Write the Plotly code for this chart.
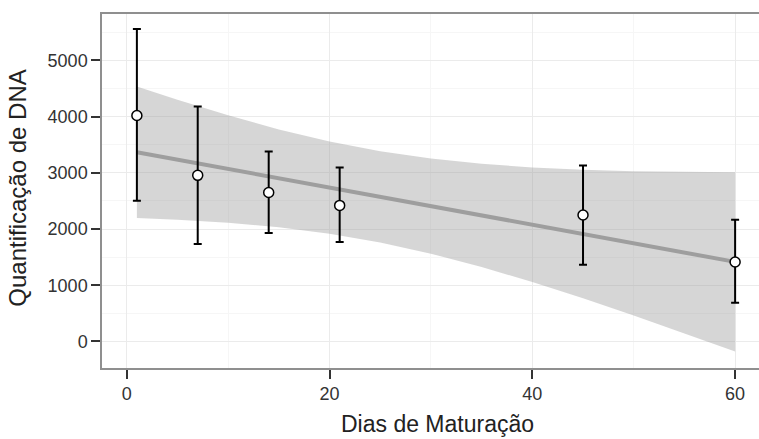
import plotly.graph_objects as go

# Data
dias = [1, 7, 14, 21, 45, 60]
media = [4020, 2955, 2650, 2420, 2250, 1413]
limite_sup = [5560, 4180, 3380, 3096, 3132, 2165]
limite_inf = [2503, 1733, 1929, 1769, 1365, 689]

# Regression line and its confidence band
ajuste_x = [1, 5, 10, 15, 20, 25, 30, 35, 40, 45, 50, 55, 60]
ajuste_y = [3366, 3234, 3068, 2903, 2738, 2573, 2407, 2242, 2076, 1911, 1746, 1580, 1415]
banda_sup = [4536, 4301, 4023, 3773, 3558, 3385, 3253, 3160, 3096, 3055, 3030, 3015, 3008]
banda_inf = [2196, 2167, 2113, 2033, 1918, 1761, 1561, 1324, 1056, 767, 462, 145, -178]

x_ticks = [0, 20, 40, 60]
y_ticks = [0, 1000, 2000, 3000, 4000, 5000]

FONT = "Liberation Sans, Arial, sans-serif"

fig = go.Figure()

fig.add_trace(go.Scatter(
    x=ajuste_x + ajuste_x[::-1],
    y=banda_sup + banda_inf[::-1],
    fill="toself",
    fillcolor="rgba(153,153,153,0.4)",
    line=dict(width=0),
    mode="lines",
    hoverinfo="skip",
    showlegend=False,
))

fig.add_trace(go.Scatter(
    x=ajuste_x, y=ajuste_y,
    mode="lines",
    line=dict(color="#9e9e9e", width=4),
    showlegend=False,
))

fig.add_trace(go.Scatter(
    x=dias, y=media,
    mode="markers",
    marker=dict(size=10, color="white", line=dict(color="black", width=1.5)),
    error_y=dict(
        type="data",
        symmetric=False,
        array=[s - m for s, m in zip(limite_sup, media)],
        arrayminus=[m - i for m, i in zip(media, limite_inf)],
        color="black",
        thickness=2,
        width=4,
    ),
    showlegend=False,
))

# The reference panel runs past the right edge of the 759 px picture (cropped),
# so the figure is a little wider and the overflow is hidden.
fig.update_layout(
    width=770, height=439,
    margin=dict(l=102, r=0, t=14, b=71, autoexpand=False),
    paper_bgcolor="white",
    plot_bgcolor="white",
    font=dict(family=FONT, color="#333333"),
    xaxis=dict(
        range=[-2.44, 63.44],
        automargin=False,
        tickvals=x_ticks,
        showgrid=True, gridcolor="#ebebeb", gridwidth=1,
        minor=dict(tickvals=[10, 30, 50], showgrid=True, gridcolor="#f6f6f6", gridwidth=1, ticks=""),
        zeroline=False,
        showline=True, linecolor="#8f8f8f", linewidth=1.5, mirror=True,
        ticks="outside", ticklen=9, tickwidth=2, tickcolor="#333333",
        tickfont=dict(size=18, color="#333333", family=FONT),
    ),
    yaxis=dict(
        range=[-473, 5826],
        automargin=False,
        tickvals=y_ticks,
        showgrid=True, gridcolor="#ebebeb", gridwidth=1,
        minor=dict(tickvals=[500, 1500, 2500, 3500, 4500, 5500], showgrid=True,
                   gridcolor="#f6f6f6", gridwidth=1, ticks=""),
        zeroline=False,
        showline=True, linecolor="#8f8f8f", linewidth=1.5, mirror=True,
        ticks="outside", ticklen=9, tickwidth=2, tickcolor="#333333",
        tickfont=dict(size=18, color="#333333", family=FONT),
    ),
    annotations=[
        dict(text="Dias de Maturação", xref="paper", yref="paper",
             x=0.502, y=-0.1997, xanchor="center", yanchor="bottom",
             showarrow=False, font=dict(size=23, color="#222222", family=FONT)),
        dict(text="Quantificação de DNA", xref="paper", yref="paper",
             x=-0.1257, y=0.5065, xanchor="center", yanchor="middle", textangle=-90,
             showarrow=False, font=dict(size=24, color="#222222", family=FONT)),
    ],
)

fig.write_html(
    "out.html",
    config={"displayModeBar": False},
    post_script=(
        "document.body.style.margin='0';document.body.style.padding='0';"
        "document.body.style.overflow='hidden';"
        "document.documentElement.style.overflow='hidden';"
    ),
)
